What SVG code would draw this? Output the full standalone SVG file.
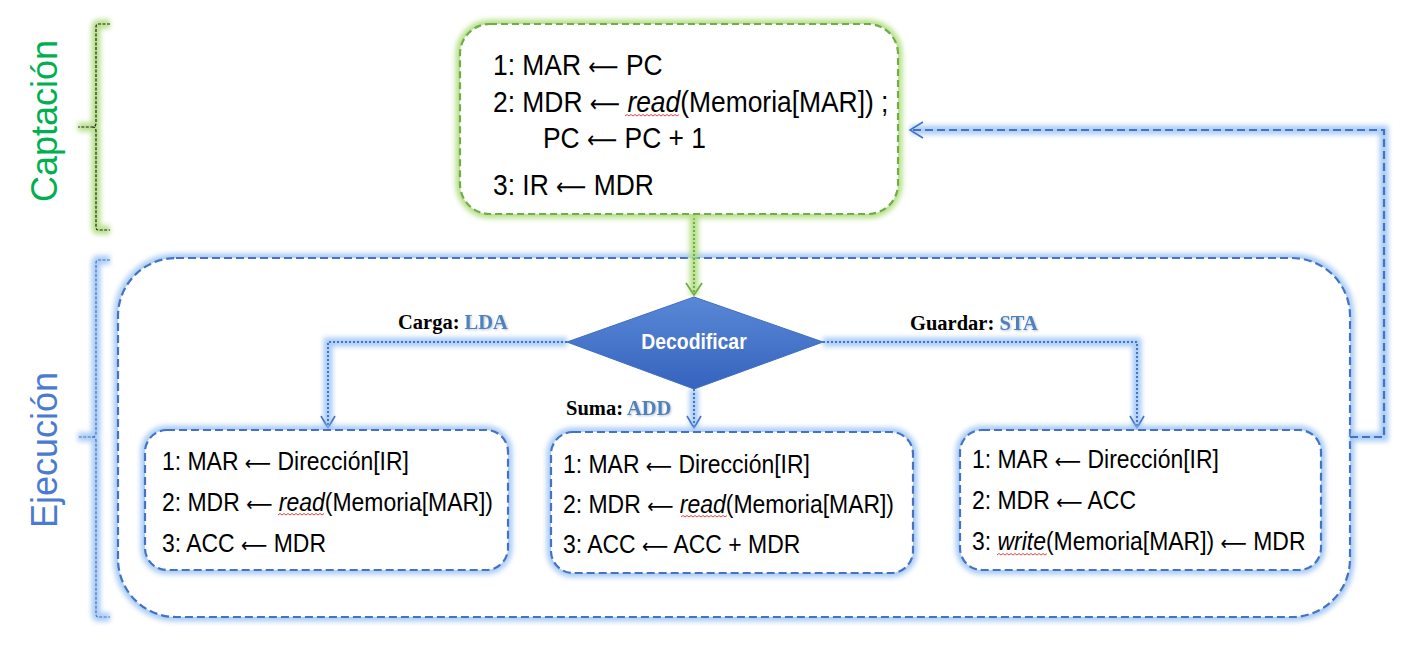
<svg xmlns="http://www.w3.org/2000/svg" width="1402" height="648" viewBox="0 0 1402 648">
<defs>
  <filter id="blur" filterUnits="userSpaceOnUse" x="0" y="0" width="1402" height="648">
    <feGaussianBlur stdDeviation="2.5"/>
  </filter>
  <filter id="tshadow" filterUnits="userSpaceOnUse" x="0" y="0" width="1402" height="648">
    <feGaussianBlur in="SourceAlpha" stdDeviation="1"/>
    <feOffset dx="1" dy="1" result="o"/>
    <feFlood flood-color="#9aa9bd" flood-opacity="0.7"/>
    <feComposite in2="o" operator="in"/>
    <feMerge><feMergeNode/><feMergeNode in="SourceGraphic"/></feMerge>
  </filter>
  <linearGradient id="dia" x1="0" y1="0" x2="0" y2="1">
    <stop offset="0" stop-color="#5a88d6"/>
    <stop offset="1" stop-color="#3563be"/>
  </linearGradient>
  <style>
    .gB { fill:none; stroke:#9cc4f4; stroke-width:9; opacity:0.85; filter:url(#blur); }
    .gG { fill:none; stroke:#b0de80; stroke-width:9; opacity:0.9; filter:url(#blur); }
    .dB { fill:none; stroke:#4472c4; stroke-width:2.2; stroke-dasharray:8 4; }
    .dG { fill:none; stroke:#70ad47; stroke-width:2.2; stroke-dasharray:7 4; }
    .oB { fill:none; stroke:#4472c4; stroke-width:2; stroke-dasharray:2 2; }
    .oG { fill:none; stroke:#70ad47; stroke-width:2; stroke-dasharray:2 2; }
    .head { fill:none; stroke:#4472c4; stroke-width:1.6; }
    .box { fill:#ffffff; }
    .t30 { font-family:"Liberation Sans", Arial, sans-serif; font-size:30px; fill:#000; }
    .t25 { font-family:"Liberation Sans", Arial, sans-serif; font-size:25.5px; fill:#000; }
    .ar { font-family:"DejaVu Sans", sans-serif; font-size:0.8em; font-weight:normal; }
    .it { font-style:italic; }
    .lab { font-family:"Liberation Serif", "Times New Roman", serif; font-size:20.5px; font-weight:bold; fill:#000; }
    .code { fill:#4f81bd; }
    .side { font-family:"Liberation Sans", Arial, sans-serif; font-size:36px; }
    .sq { fill:none; stroke:#e03030; stroke-width:0.9; }
    .brK { fill:none; stroke:#222; stroke-width:1.2; stroke-dasharray:3 1.5; }
    .brB { fill:none; stroke:#4472c4; stroke-width:1.2; stroke-dasharray:3 1.5; }
  </style>
</defs>
<rect width="1402" height="648" fill="#ffffff"/>

<!-- Side labels and brackets -->
<g id="captacion-label">
  <path class="gG" d="M110,24 H98 Q96,24 96,27 V123 Q96,127 92,127 H78 M92,127 Q96,127 96,131 V227 Q96,230 98,230 H110"/>
  <path class="brK" d="M110,24 H98 Q96,24 96,27 V123 Q96,127 92,127 H78 M92,127 Q96,127 96,131 V227 Q96,230 98,230 H110"/>
  <text class="side" fill="#00b050" transform="translate(57 121) rotate(-90)" text-anchor="middle">Captación</text>
</g>
<g id="ejecucion-label">
  <path class="gB" d="M110,260 H98 Q96,260 96,263 V433 Q96,437 92,437 H78 M92,437 Q96,437 96,441 V614 Q96,617 98,617 H110"/>
  <path class="brB" d="M110,260 H98 Q96,260 96,263 V433 Q96,437 92,437 H78 M92,437 Q96,437 96,441 V614 Q96,617 98,617 H110"/>
  <text class="side" fill="#4a7bd0" transform="translate(57 450) rotate(-90)" text-anchor="middle">Ejecución</text>
</g>

<!-- Execution container -->
<g id="ejecucion">
  <rect class="gB" x="118" y="258" width="1232" height="359" rx="58"/>
  <rect class="box" x="118" y="258" width="1232" height="359" rx="58"/>
  <rect class="dB" x="118" y="258" width="1232" height="359" rx="58"/>
</g>

<!-- Connectors -->
<g id="connectors">
  <path class="gG" d="M694,214 V295"/>
  <path class="oG" d="M694,214 V295"/>
  <path fill="none" stroke="#70ad47" stroke-width="1.8" d="M686,283 L694,295 L702,283"/>

  <path class="gB" d="M567,342 H328 V428"/>
  <path class="oB" d="M567,342 H328 V428"/>
  <path class="head" d="M321,416 L328,428 L335,416"/>

  <path class="gB" d="M823,342 H1137 V428"/>
  <path class="oB" d="M823,342 H1137 V428"/>
  <path class="head" d="M1130,416 L1137,428 L1144,416"/>

  <path class="gB" d="M694,389 V428"/>
  <path class="oB" d="M694,389 V428"/>
  <path class="head" d="M687,416 L694,428 L701,416"/>

  <path class="gB" d="M1350,437 H1384 V130 H911"/>
  <path class="dB" d="M1350,437 H1384 V130 H911"/>
  <path class="head" stroke-width="2" d="M923,122 L910,130 L923,138"/>
</g>

<!-- Fetch box -->
<g id="captacion">
  <rect class="gG" x="460" y="24" width="438" height="190" rx="30"/>
  <rect class="box" x="460" y="24" width="438" height="190" rx="30"/>
  <rect class="dG" x="460" y="24" width="438" height="190" rx="30"/>
  <text class="t30" transform="translate(493 75) scale(0.88 1)">1: MAR <tspan class="ar">⟵</tspan> PC</text>
  <text class="t30" transform="translate(493 112) scale(0.88 1)">2: MDR <tspan class="ar">⟵</tspan> <tspan class="it">read</tspan>(Memoria[MAR])  ;</text>
  <text class="t30" transform="translate(543 148) scale(0.88 1)">PC <tspan class="ar">⟵</tspan> PC + 1</text>
  <text class="t30" transform="translate(493 195) scale(0.88 1)">3: IR <tspan class="ar">⟵</tspan> MDR</text>
  <path class="sq" d="M625,116 l2,-1.5 l2,1.5 l2,-1.5 l2,1.5 l2,-1.5 l2,1.5 l2,-1.5 l2,1.5 l2,-1.5 l2,1.5 l2,-1.5 l2,1.5 l2,-1.5 l2,1.5 l2,-1.5 l2,1.5 l2,-1.5 l2,1.5 l2,-1.5 l2,1.5 l2,-1.5 l2,1.5 l2,-1.5 l2,1.5 l2,-1.5 l2,1.5 l2,-1.5"/>
</g>

<!-- Decode diamond -->
<g id="decodificar">
  <polygon points="694,297 823,342 694,389 567,342" fill="url(#dia)" stroke="#3f6cc4" stroke-width="1"/>
  <text transform="translate(694 349) scale(0.9 1)" text-anchor="middle" font-family="Liberation Sans, Arial, sans-serif" font-size="21.5" font-weight="bold" fill="#ffffff">Decodificar</text>
</g>

<!-- Branch labels -->
<g id="label-lda"><text class="lab" x="398" y="329">Carga: <tspan class="code" filter="url(#tshadow)">LDA</tspan></text></g>
<g id="label-sta"><text class="lab" x="910" y="330">Guardar: <tspan class="code" filter="url(#tshadow)">STA</tspan></text></g>
<g id="label-add"><text class="lab" x="566" y="415">Suma: <tspan class="code" filter="url(#tshadow)">ADD</tspan></text></g>

<!-- LDA box -->
<g id="lda">
  <rect class="gB" x="145" y="430" width="363" height="140" rx="22"/>
  <rect class="box" x="145" y="430" width="363" height="140" rx="22"/>
  <rect class="dB" x="145" y="430" width="363" height="140" rx="22"/>
  <text class="t25" transform="translate(162 470) scale(0.9 1)">1: MAR <tspan class="ar">⟵</tspan> Dirección[IR]</text>
  <text class="t25" transform="translate(162 511) scale(0.9 1)">2: MDR <tspan class="ar">⟵</tspan> <tspan class="it">read</tspan>(Memoria[MAR])</text>
  <text class="t25" transform="translate(162 552) scale(0.9 1)">3: ACC <tspan class="ar">⟵</tspan> MDR</text>
  <path class="sq" d="M278,515 l2,-1.5 l2,1.5 l2,-1.5 l2,1.5 l2,-1.5 l2,1.5 l2,-1.5 l2,1.5 l2,-1.5 l2,1.5 l2,-1.5 l2,1.5 l2,-1.5 l2,1.5 l2,-1.5 l2,1.5 l2,-1.5 l2,1.5 l2,-1.5 l2,1.5 l2,-1.5 l2,1.5 l2,-1.5"/>
</g>

<!-- ADD box -->
<g id="add">
  <rect class="gB" x="551" y="432" width="362" height="141" rx="22"/>
  <rect class="box" x="551" y="432" width="362" height="141" rx="22"/>
  <rect class="dB" x="551" y="432" width="362" height="141" rx="22"/>
  <text class="t25" transform="translate(563 473) scale(0.9 1)">1: MAR <tspan class="ar">⟵</tspan> Dirección[IR]</text>
  <text class="t25" transform="translate(563 513) scale(0.9 1)">2: MDR <tspan class="ar">⟵</tspan> <tspan class="it">read</tspan>(Memoria[MAR])</text>
  <text class="t25" transform="translate(563 553) scale(0.9 1)">3: ACC <tspan class="ar">⟵</tspan> ACC + MDR</text>
  <path class="sq" d="M681,517 l2,-1.5 l2,1.5 l2,-1.5 l2,1.5 l2,-1.5 l2,1.5 l2,-1.5 l2,1.5 l2,-1.5 l2,1.5 l2,-1.5 l2,1.5 l2,-1.5 l2,1.5 l2,-1.5 l2,1.5 l2,-1.5 l2,1.5 l2,-1.5 l2,1.5 l2,-1.5 l2,1.5 l2,-1.5"/>
</g>

<!-- STA box -->
<g id="sta">
  <rect class="gB" x="960" y="430" width="361" height="140" rx="22"/>
  <rect class="box" x="960" y="430" width="361" height="140" rx="22"/>
  <rect class="dB" x="960" y="430" width="361" height="140" rx="22"/>
  <text class="t25" transform="translate(972 468) scale(0.9 1)">1: MAR <tspan class="ar">⟵</tspan> Dirección[IR]</text>
  <text class="t25" transform="translate(972 509) scale(0.9 1)">2: MDR <tspan class="ar">⟵</tspan> ACC</text>
  <text class="t25" transform="translate(972 550) scale(0.9 1)">3: <tspan class="it">write</tspan>(Memoria[MAR]) <tspan class="ar">⟵</tspan> MDR</text>
  <path class="sq" d="M997,555 l2,-1.5 l2,1.5 l2,-1.5 l2,1.5 l2,-1.5 l2,1.5 l2,-1.5 l2,1.5 l2,-1.5 l2,1.5 l2,-1.5 l2,1.5 l2,-1.5 l2,1.5 l2,-1.5 l2,1.5 l2,-1.5 l2,1.5 l2,-1.5 l2,1.5 l2,-1.5 l2,1.5 l2,-1.5 l2,1.5 l2,-1.5"/>
</g>
</svg>
